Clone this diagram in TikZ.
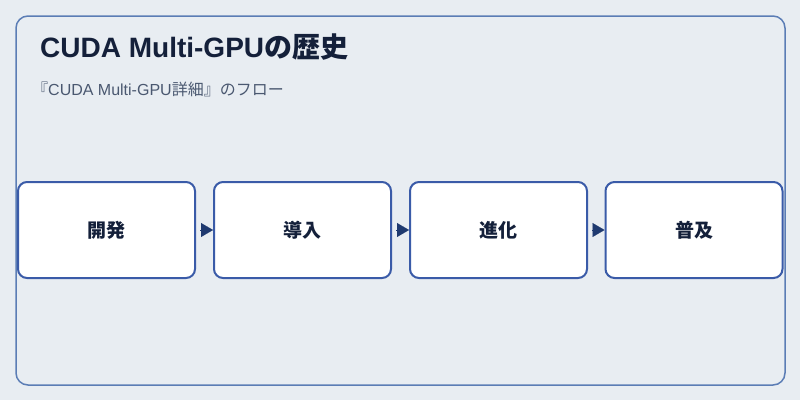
\documentclass[tikz,border=0pt]{standalone}
\usepackage{fontspec}
\setmainfont{Liberation Sans}
\newfontfamily\cjk{Noto Sans CJK JP}
\usetikzlibrary{positioning,arrows.meta}
\definecolor{bgcol}{HTML}{E8EDF2}
\definecolor{framecol}{HTML}{5B7DB5}
\definecolor{boxcol}{HTML}{3A5BA8}
\definecolor{tipcol}{HTML}{1F3A70}
\definecolor{titlecol}{HTML}{14203A}
\definecolor{subcol}{HTML}{4A5870}
\tikzset{
  stepbox/.style={draw=boxcol, line width=2pt, fill=white, rounded corners=9pt,
    minimum width=177pt, minimum height=96pt, font=\cjk\fontsize{19}{22}\selectfont\bfseries, text=titlecol},
  flow/.style={-{Triangle[length=12pt,width=14pt]}, draw=tipcol, fill=tipcol, line width=0.1pt, shorten <=4pt}
}
\begin{document}
\begin{tikzpicture}[x=1pt,y=-1pt]
  \fill[bgcol] (0,0) rectangle (800,400);
  \draw[framecol, line width=1.5pt, rounded corners=12pt] (16,16) rectangle (785,385);
  \node[anchor=west, font=\fontsize{28}{32}\selectfont\bfseries, text=titlecol, inner sep=0pt] (title) at (40,47) {CUDA Multi-GPU{\cjk\bfseries の歴史}};
  \node[anchor=west, font=\fontsize{16}{19}\selectfont, text=subcol, inner sep=0pt] (sub) at (32,89) {{\cjk 『}CUDA Multi-GPU{\cjk 詳細』のフロー}};
  % steps
  \node[stepbox] (dev) at (106.5,230) {開発};
  \node[stepbox] (intro) at (302.5,230) {導入};
  \node[stepbox] (evo) at (498.5,230) {進化};
  \node[stepbox] (pop) at (694,230) {普及};
  \draw[flow] (dev) -- (intro);
  \draw[flow] (intro) -- (evo);
  \draw[flow] (evo) -- (pop);
\end{tikzpicture}
\end{document}
